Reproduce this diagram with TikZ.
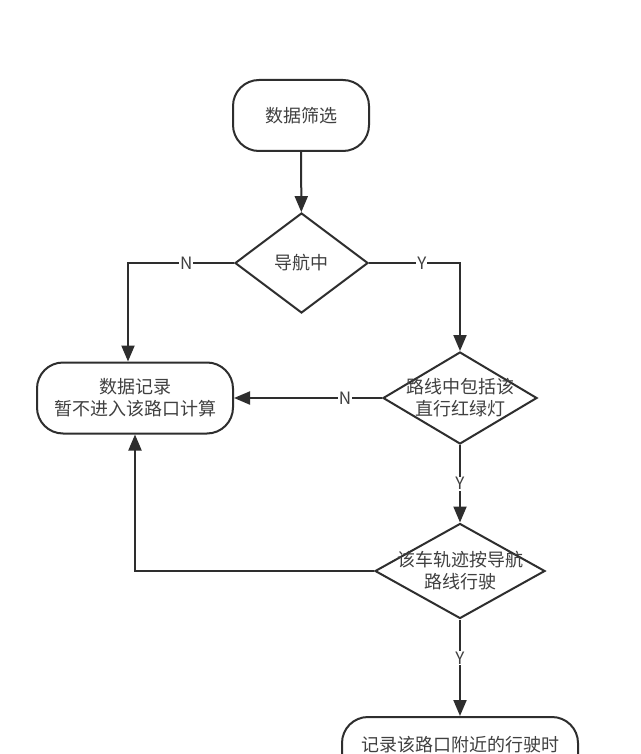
\documentclass[tikz,border=0pt]{standalone}
\usepackage{fontspec}
\setmainfont{Noto Sans CJK SC}
\usetikzlibrary{shapes.geometric,arrows.meta}
\definecolor{ln}{HTML}{2E2E2E}
\definecolor{tx}{HTML}{404040}
\begin{document}
\begin{tikzpicture}[x=1pt,y=-1pt,
  term/.style={draw=ln, line width=2pt, rounded corners=26pt, inner sep=0pt, fill=white},
  dec/.style={draw=ln, diamond, line width=2pt, inner sep=0pt, fill=white},
  txt/.style={text=tx, font=\fontsize{18}{22}\selectfont, align=center, inner sep=0pt},
  arr/.style={draw=ln, line width=2pt, -{Triangle[length=16pt,width=13pt]}},
  lab/.style={fill=white, text=tx, font=\fontsize{17}{20}\selectfont, inner sep=1pt}]
\useasboundingbox (0,0) rectangle (640,754);
\clip (0,0) rectangle (640,754);
\fill[white] (0,0) rectangle (640,754);

\node[term, minimum width=136pt, minimum height=71pt] (start) at (301,115.5) {};
\node[txt] (startt) at (start) {数据筛选};

\node[dec, minimum width=133pt, minimum height=100pt] (d1) at (301.5,263) {};
\node[txt] (d1t) at (d1) {导航中};

\node[term, minimum width=196pt, minimum height=71pt] (rec) at (135,398) {};
\node[txt] (rect) at (rec) {数据记录\\暂不进入该路口计算};

\node[dec, minimum width=154pt, minimum height=92pt] (d2) at (460,398) {};
\node[txt] (d2t) at (d2) {路线中包括该\\直行红绿灯};

\node[dec, minimum width=170pt, minimum height=95pt] (d3) at (460,571) {};
\node[txt] (d3t) at (d3) {该车轨迹按导航\\路线行驶};

\node[term, minimum width=236pt, minimum height=80pt] (rec2) at (460,757) {};
\node[txt] (rec2t) at (460,745) {记录该路口附近的行驶时};

\draw[arr] (start) -- (d1);
\draw[arr] (d1.west) -| ([xshift=-7pt]rec.north) node[lab, pos=0.225] {N};
\draw[arr] (d1.east) -| (d2.north) node[lab, pos=0.29] {Y};
\draw[arr] (d2.west) -- (rec.east) node[lab, pos=0.25] {N};
\draw[arr] (d2.south) -- (d3.north) node[lab, midway] {Y};
\draw[arr] (d3.west) -| (rec.south);
\draw[arr] (d3.south) -- (rec2.north) node[lab, pos=0.4] {Y};
\end{tikzpicture}
\end{document}
